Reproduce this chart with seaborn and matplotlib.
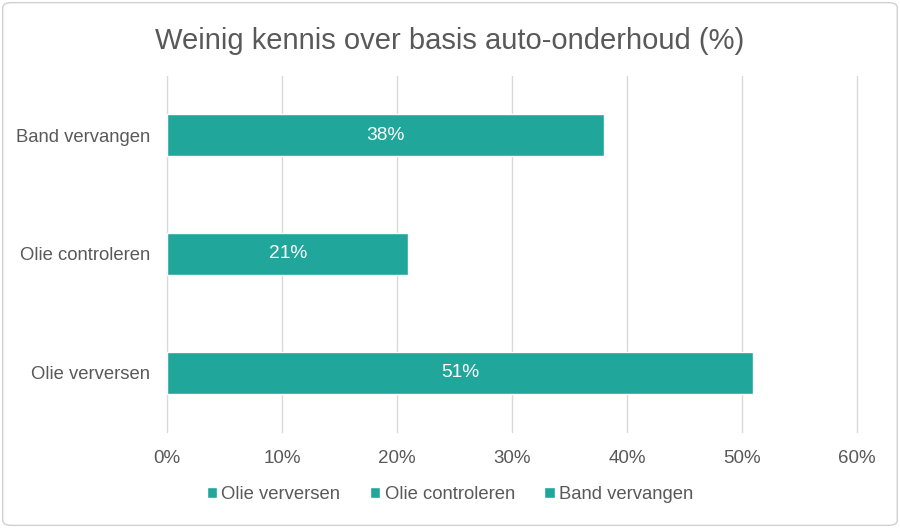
import matplotlib
matplotlib.use("Agg")
import matplotlib.pyplot as plt
import seaborn as sns
import pandas as pd
from matplotlib.patches import FancyBboxPatch

# data
categories = ["Band vervangen", "Olie controleren", "Olie verversen"]
values = [0.38, 0.21, 0.51]
legend_order = ["Olie verversen", "Olie controleren", "Band vervangen"]
xticks = [0, 0.1, 0.2, 0.3, 0.4, 0.5, 0.6]
xtick_labels = ["0%", "10%", "20%", "30%", "40%", "50%", "60%"]

teal = "#20A69A"
grey = "#595959"

df = pd.DataFrame({"taak": categories, "aandeel": values})

sns.set_style("white")
plt.rcParams["font.family"] = ["Liberation Sans", "DejaVu Sans"]

fig = plt.figure(figsize=(9, 5.28), dpi=100)
ax = fig.add_axes([0.1856, 0.182, 0.7664, 0.674])

sns.barplot(data=df, x="aandeel", y="taak", hue="taak", order=categories,
            hue_order=legend_order, palette=[teal] * 3, width=0.355,
            dodge=False, legend=True, ax=ax, saturation=1)

for c in ax.containers:
    ax.bar_label(c, labels=[f"{v*100:.0f}%" for v in c.datavalues],
                 label_type="center", color="white", fontsize=13.8)

ax.set_xlim(0, 0.6)
ax.set_xticks(xticks)
ax.set_xticklabels(xtick_labels, fontsize=13.5, color=grey)
ax.tick_params(axis="y", labelsize=13.3, labelcolor=grey, length=0, pad=12)
ax.tick_params(axis="x", length=0, pad=13)
ax.set_xlabel("")
ax.set_ylabel("")
ax.grid(axis="x", color="#D9D9D9", linewidth=1)
ax.set_axisbelow(True)
for s in ax.spines.values():
    s.set_visible(False)
for gl in ax.get_xgridlines():
    gl.set_clip_on(False)

handles, labels = ax.get_legend_handles_labels()
lut = dict(zip(labels, handles))
ax.legend([lut[l] for l in legend_order], legend_order, loc="center",
          bbox_to_anchor=(0.5, 0.064), bbox_transform=fig.transFigure,
          ncol=3, frameon=False, fontsize=13.3, labelcolor=grey,
          handlelength=0.55, handleheight=0.55, handletextpad=0.25,
          columnspacing=1.6)

fig.text(0.5, 0.922, "Weinig kennis over basis auto-onderhoud (%)",
         ha="center", va="center", fontsize=21, color=grey)

border = FancyBboxPatch((0.003, 0.005), 0.994, 0.99, boxstyle="round,pad=0,rounding_size=0.01",
                        transform=fig.transFigure, fill=False, edgecolor="#D0D0D0",
                        linewidth=1)
fig.patches.append(border)

fig.savefig("out.png", dpi=100)
